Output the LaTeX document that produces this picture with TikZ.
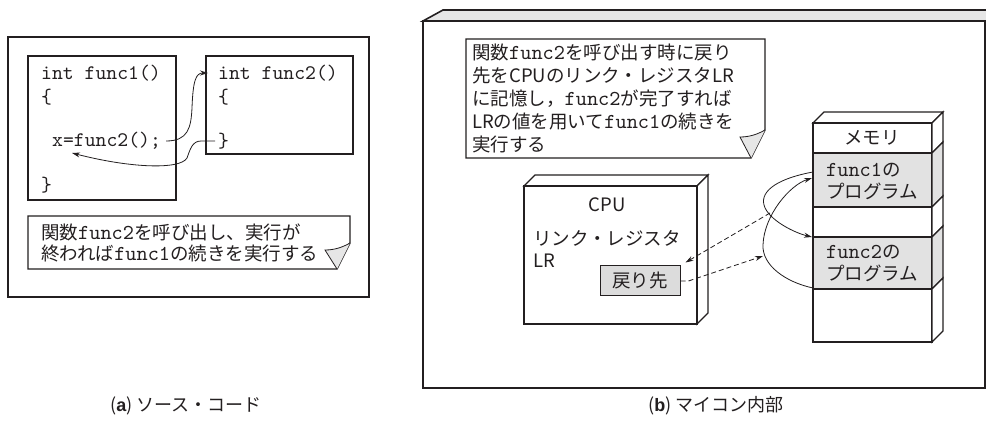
\documentclass[tikz,border=0pt]{standalone}
\usepackage{fontspec}
\setmainfont{Noto Sans CJK JP}
\setmonofont{lmmono10-regular.otf}[Scale=1.15]
\newfontfamily\lsans{Liberation Sans}
\usetikzlibrary{arrows.meta}
\definecolor{facegray}{HTML}{E6E6E6}
\definecolor{memgray}{HTML}{E2E2E2}
\definecolor{boxgray}{HTML}{DCDCDC}
\definecolor{ink}{HTML}{231F20}
\tikzset{
  panel/.style={draw=ink, line width=1.6pt},
  box/.style={draw=ink, line width=1.4pt},
  txt/.style={inner sep=0pt, anchor=west, text=ink, font=\fontsize{18.5}{22}\selectfont},
  code/.style={inner sep=0pt, anchor=west, text=ink, font=\fontsize{18}{22}\selectfont\ttfamily},
  conn/.style={draw=ink, line width=0.8pt, -{Stealth[length=8pt,width=5pt]}},
  dconn/.style={conn, dash pattern=on 5pt off 3pt},
  fold/.style={draw=ink, fill=facegray, line width=0.8pt},
}
\begin{document}
\begin{tikzpicture}[x=1pt,y=-1pt]
\useasboundingbox (0,0) rectangle (986,422);
\clip (0,0) rectangle (986,422);
\fill[white] (0,0) rectangle (986,422);

% ---------- (a) left panel ----------
\draw[panel] (8,37) rectangle (369,297);
\draw[box] (28,56) rectangle (176,200);
\draw[box] (206,56) rectangle (353,154);
\node[code] (f1h) at (41,73) {int func1()};
\node[code] (f1o) at (41,97) {\{};
\node[code] (call) at (52,141) {x=func2();};
\node[code] (f1c) at (41,185) {\}};
\node[code] (f2h) at (218,73) {int func2()};
\node[code] (f2o) at (218,97) {\{};
\node[code] (f2c) at (218,141) {\}};
\coordinate (retpt) at (72,153);
\draw[conn] ([xshift=5pt]call.east) .. controls (188,141) and (191,128) .. (192,108)
   .. controls (193,80) and (196,73) .. ([xshift=-10pt]f2h.west);
\draw[conn] ([xshift=-3pt]f2c.west) -- (201,141) .. controls (192,141) and (190,150) .. (187,158)
   .. controls (180,170) and (130,168) .. (retpt);

\draw[box, fill=white] (28,216) -- (350,216) -- (350,243) -- (337,269) -- (28,269) -- cycle;
\draw[fold] (337,269) -- (325,250) .. controls (335,250) and (343,247) .. (350,243);
\node[txt, align=left, font=\fontsize{18.5}{20.5}\selectfont] (n1) at (41,243)
  {関数\texttt{func2}を呼び出し、実行が\\終われば\texttt{func1}の続きを実行する};

\node[text=ink, inner sep=0pt, font=\fontsize{18}{20}\selectfont] (capa) at (186,406)
  {({\lsans\bfseries a}) ソース・コード};

% ---------- (b) right panel ----------
\filldraw[fill=facegray, draw=ink, line width=1.6pt] (423,21) -- (443,10) -- (1010,10) -- (990,21) -- cycle;
\draw[panel] (423,21) rectangle (985,388);

\draw[box, fill=white] (466,39) -- (765,39) -- (765,130) -- (751,158) -- (466,158) -- cycle;
\draw[fold] (751,158) -- (740,137) .. controls (750,137) and (758,134) .. (765,130);
\node[txt, align=left, font=\fontsize{18.5}{22.8}\selectfont] (n2) at (472,98.5)
  {関数\texttt{func2}を呼び出す時に戻り\\先をCPUのリンク・レジスタLR\\に記憶し，\texttt{func2}が完了すれば\\LRの値を用いて\texttt{func1}の続きを\\実行する};

% CPU
\filldraw[box, fill=white] (524,186) -- (535,175) -- (708,175) -- (697,186) -- cycle;
\filldraw[box, fill=white] (697,186) -- (708,175) -- (708,313) -- (697,324) -- cycle;
\draw[box] (524,186) rectangle (697,324);
\node[txt, anchor=center] (cpu) at (607,205) {CPU};
\node[txt, align=left] (lrn) at (533,249) {リンク・レジスタ\\LR};
\node[draw=ink, line width=1pt, fill=boxgray, minimum width=80pt, minimum height=30pt,
      inner sep=0pt, text=ink, font=\fontsize{18.5}{22}\selectfont] (ret) at (640,281) {戻り先};

% memory
\filldraw[box, fill=white] (813,123) -- (824,112) -- (943,112) -- (932,123) -- cycle;
\foreach \ya/\yb/\c in {123/153/white, 153/207/memgray, 207/237/white, 237/289/memgray, 289/342/white}{
  \filldraw[box, fill=\c] (813,\ya) rectangle (932,\yb);
  \filldraw[box, fill=\c] (932,\ya) -- (943,{\ya-11}) -- (943,{\yb-11}) -- (932,\yb) -- cycle;
}
\node[txt, anchor=center] (memt) at (872,138) {メモリ};
\node[txt, align=left] (m1t) at (826,181) {\texttt{func1}の\\プログラム};
\node[txt, align=left] (m2t) at (826,263) {\texttt{func2}の\\プログラム};

\coordinate (a1) at (813,172);
\coordinate (a2) at (812,237);
\coordinate (b1) at (813,288);
\coordinate (b2) at (812,178);
\draw[conn] (a1) .. controls (780,178) and (760,190) .. (764,205) .. controls (768,220) and (795,233) .. (a2);
\draw[conn] (b1) .. controls (785,282) and (762,265) .. (763,245) .. controls (764,215) and (790,185) .. (b2);
\coordinate (d1) at (770,213);
\coordinate (d2) at (763,256);
\draw[dconn] (d1) -- ([shift={(5,-3)}]ret.north east);
\draw[dconn] (ret.east) -- ++(8,0) -- (d2);

\node[text=ink, inner sep=0pt, font=\fontsize{18}{20}\selectfont] (capb) at (716,406)
  {({\lsans\bfseries b}) マイコン内部};
\end{tikzpicture}
\end{document}
